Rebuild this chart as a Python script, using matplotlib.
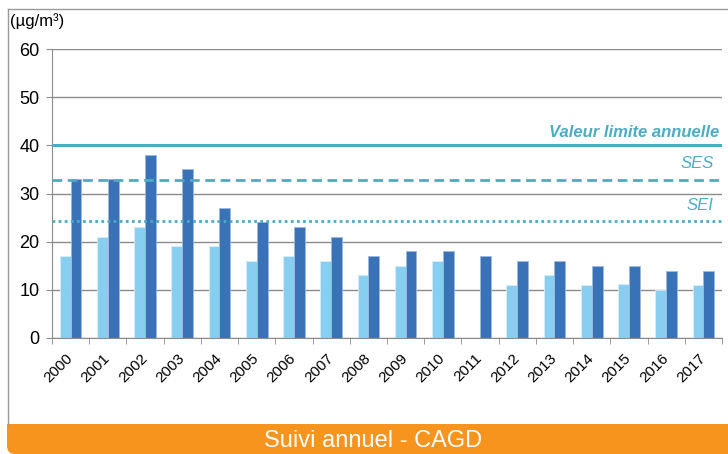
import numpy as np
import matplotlib.pyplot as plt
from matplotlib.patches import FancyBboxPatch, Rectangle

years = [str(y) for y in range(2000, 2018)]
light_vals = [17, 21, 23, 19, 19, 16, 17, 16, 13, 15, 16, np.nan, 11, 13, 11, 11.2, 10, 11]
dark_vals = [33, 33, 38, 35, 27, 24, 23, 21, 17, 18, 18, 17, 16, 16, 15, 15, 14, 14]
limit_value = 40
ses_value = 32.8
sei_value = 24.2

plt.rcParams['font.family'] = ['Liberation Sans', 'DejaVu Sans']
line_color = '#4BACC6'

fig = plt.figure(figsize=(7.28, 4.54), dpi=100)
inch = fig.dpi_scale_trans

# outer frame (top and left edges) and bottom banner, in inches
fig.add_artist(plt.Line2D([0.075, 0.075], [0.30, 4.45], transform=inch, color='#9a9a9a', linewidth=1))
fig.add_artist(plt.Line2D([0.075, 7.28], [4.45, 4.45], transform=inch, color='#9a9a9a', linewidth=1))
fig.add_artist(FancyBboxPatch((0.07, 0.0), 7.4, 0.30, boxstyle='round,pad=0,rounding_size=0.08',
                              transform=inch, facecolor='#F7941D', edgecolor='none'))
fig.add_artist(Rectangle((0.07, 0.15), 7.4, 0.15, transform=inch, facecolor='#F7941D', edgecolor='none'))
fig.text(373 / 728, (454 - 441) / 454, 'Suivi annuel - CAGD', color='white', fontsize=17,
         ha='center', va='center')

ax = fig.add_axes([52 / 728, 1 - 338 / 454, 670 / 728, (338 - 49) / 454])
x = np.arange(len(years))
w = 0.29
ax.bar(x - w / 2, light_vals, width=w, color='#87CEF0', edgecolor='#D6EEFA', linewidth=0.6, zorder=2)
ax.bar(x + w / 2, dark_vals, width=w, color='#3A72B8', edgecolor='#9DB8DC', linewidth=0.6, zorder=2)

ax.axhline(limit_value, color=line_color, linewidth=2.2, zorder=3)
ax.axhline(ses_value, color=line_color, linewidth=2, linestyle=(0, (3.5, 2)), zorder=3)
ax.axhline(sei_value, color=line_color, linewidth=2, linestyle=(0, (1, 1.2)), zorder=3)

ax.text(17.43, limit_value + 1.2, 'Valeur limite annuelle', color=line_color, fontsize=12,
        fontweight='bold', style='italic', ha='right', va='bottom')
ax.text(17.28, ses_value + 1.8, 'SES', color=line_color, fontsize=12, style='italic',
        ha='right', va='bottom')
ax.text(17.28, sei_value + 1.8, 'SEI', color=line_color, fontsize=12, style='italic',
        ha='right', va='bottom')

ax.set_xlim(-0.5, len(years) - 0.5)
ax.set_ylim(0, 60)
ax.set_yticks(range(0, 61, 10))
ax.yaxis.grid(True, color='#8c8c8c', linewidth=1)
ax.set_axisbelow(True)
ax.set_xticks(x)
ax.set_xticklabels(years, rotation=45, ha='right', va='center', rotation_mode='anchor', fontsize=11)
ax.set_xticks(np.arange(-0.5, len(years)), minor=True)
ax.tick_params(axis='x', which='major', length=0, pad=13)
ax.tick_params(axis='x', which='minor', length=4, color='#8c8c8c')
ax.tick_params(axis='y', length=4, color='#8c8c8c', labelsize=13, pad=5)
for side in ['top', 'right']:
    ax.spines[side].set_visible(False)
ax.spines['left'].set_color('#8c8c8c')
ax.spines['bottom'].set_color('#8c8c8c')

fig.text(10 / 728, 1 - 21 / 454, '(µg/m³)', fontsize=12, ha='left', va='center')

fig.savefig('out.png', dpi=100)
